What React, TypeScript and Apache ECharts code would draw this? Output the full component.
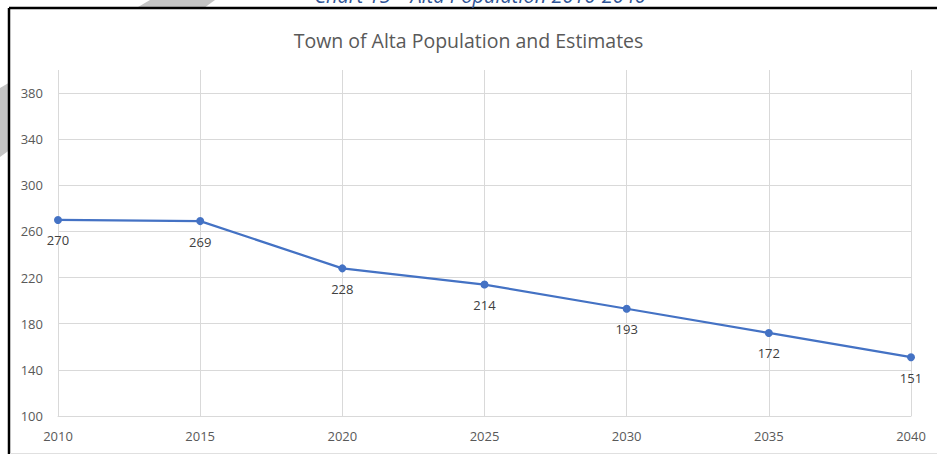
import React, { useEffect, useRef } from "react";
import * as echarts from "echarts";

const years = [2010, 2015, 2020, 2025, 2030, 2035, 2040];
const population = [270, 269, 228, 214, 193, 172, 151];
const yTickLabels = [100, 140, 180, 220, 260, 300, 340, 380];
const chartTitle = "Town of Alta Population and Estimates";
const captionText = "Chart 15 – Alta Population 2010-2040";

export default function App() {
  const ref = useRef<HTMLDivElement>(null);
  useEffect(() => {
    if (!ref.current) return;
    const chart = echarts.init(ref.current, undefined, { renderer: "svg" });
    const font = "'Open Sans', 'Noto Sans', sans-serif";
    chart.setOption({
      animation: false,
      backgroundColor: "#ffffff",
      textStyle: { fontFamily: font },
      title: {
        text: chartTitle,
        left: "center",
        top: 25,
        textStyle: { fontSize: 19.5, fontWeight: "normal", color: "#595959", fontFamily: font },
      },
      graphic: [
        {
          type: "polygon",
          z: -10,
          shape: { points: [[150, 0], [215, 0], [0, 157], [0, 88]] },
          style: { fill: "#c4c4c4" },
          silent: true,
        },
        {
          type: "rect",
          z: -5,
          shape: { x: 9, y: 8, width: 940, height: 445 },
          style: { fill: "#ffffff" },
          silent: true,
        },
        {
          type: "line",
          z: 5,
          shape: { x1: 9, y1: 8, x2: 937, y2: 8 },
          style: { stroke: "#000000", lineWidth: 2.5 },
          silent: true,
        },
        {
          type: "line",
          z: 5,
          shape: { x1: 9, y1: 8, x2: 9, y2: 454 },
          style: { stroke: "#000000", lineWidth: 2.5 },
          silent: true,
        },
        {
          type: "line",
          z: 5,
          shape: { x1: 10, y1: 453.5, x2: 937, y2: 453.5 },
          style: { stroke: "#e0e0e0", lineWidth: 1 },
          silent: true,
        },
        {
          type: "text",
          z: 5,
          x: 480,
          y: -5,
          style: {
            text: captionText,
            fill: "#2F5496",
            font: "italic 20px 'Open Sans', sans-serif",
            align: "center",
            verticalAlign: "middle",
          },
          silent: true,
        },
      ],
      grid: { left: 58, right: 26, top: 70, bottom: 39, containLabel: false },
      xAxis: {
        type: "value",
        min: years[0],
        max: years[years.length - 1],
        interval: 5,
        axisLine: { show: true, lineStyle: { color: "#D9D9D9", width: 1 } },
        axisTick: { show: false },
        splitLine: { show: true, lineStyle: { color: "#D9D9D9", width: 1 } },
        axisLabel: {
          color: "#595959",
          fontSize: 13,
          margin: 13,
          fontFamily: font,
          formatter: (v: number) => String(v),
        },
      },
      yAxis: {
        type: "value",
        min: 100,
        max: 400,
        interval: 20,
        axisLine: { show: false },
        axisTick: { show: false },
        splitLine: {
          show: true,
          lineStyle: { color: ["#D9D9D9", "rgba(0,0,0,0)"], width: 1 },
        },
        axisLabel: {
          color: "#595959",
          fontSize: 13,
          margin: 15,
          fontFamily: font,
          formatter: (v: number) => (yTickLabels.includes(v) ? String(v) : ""),
        },
      },
      series: [
        {
          type: "line",
          data: years.map((y, i) => [y, population[i]]),
          symbol: "circle",
          symbolSize: 8,
          lineStyle: { color: "#4472C4", width: 2.25 },
          itemStyle: { color: "#4472C4" },
          label: {
            show: true,
            position: "bottom",
            distance: 10,
            color: "#404040",
            fontSize: 13,
            fontFamily: font,
            formatter: (p: any) => String(p.value[1]),
          },
        },
      ],
    });
    return () => chart.dispose();
  }, []);
  return (
    <div
      ref={ref}
      style={{ position: "fixed", left: 0, top: 0, width: 937, height: 455 }}
    />
  );
}
